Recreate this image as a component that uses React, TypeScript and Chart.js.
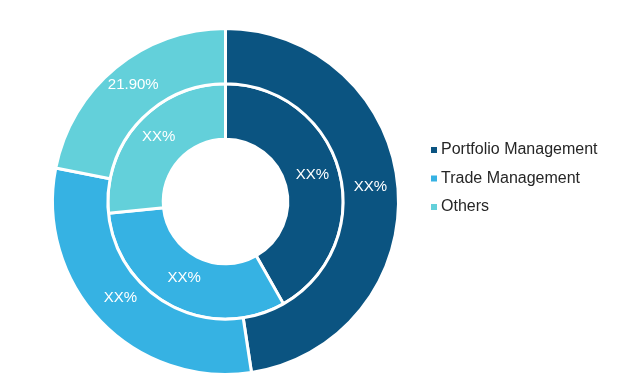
import React, { useEffect, useRef } from "react";
import { Chart, registerables } from "chart.js";

Chart.register(...registerables);

const categories = ["Portfolio Management", "Trade Management", "Others"];
const outerValues = [47.6, 30.5, 21.9];
const innerValues = [41.8, 31.6, 26.6];
const outerLabels = ["XX%", "XX%", "21.90%"];
const innerLabels = ["XX%", "XX%", "XX%"];
const colors = ["#0b5481", "#36b2e3", "#63d0da"];

const labelPlugin = {
  id: "arcLabels",
  afterDatasetsDraw(chart: any) {
    const ctx = chart.ctx;
    const texts = [outerLabels, innerLabels];
    ctx.save();
    ctx.font = "15px 'Liberation Sans', Arial, sans-serif";
    ctx.fillStyle = "#ffffff";
    ctx.textAlign = "center";
    ctx.textBaseline = "middle";
    chart.data.datasets.forEach((_: any, di: number) => {
      const meta = chart.getDatasetMeta(di);
      meta.data.forEach((arc: any, i: number) => {
        const p = arc.tooltipPosition();
        ctx.fillText(texts[di][i], p.x, p.y - 4);
      });
    });
    ctx.restore();
  },
};

const legendPlugin = {
  id: "sideLegend",
  afterDraw(chart: any) {
    const ctx = chart.ctx;
    ctx.save();
    ctx.font = "16px 'Liberation Sans', Arial, sans-serif";
    ctx.textBaseline = "middle";
    ctx.textAlign = "left";
    const x0 = 431;
    const y0 = 150;
    const step = 28.5;
    categories.forEach((c, i) => {
      const y = y0 + i * step;
      ctx.fillStyle = colors[i];
      ctx.fillRect(x0, y - 3, 6, 6);
      ctx.fillStyle = "#262626";
      ctx.fillText(c, x0 + 10, y);
    });
    ctx.restore();
  },
};

export default function App() {
  const ref = useRef<HTMLCanvasElement | null>(null);
  useEffect(() => {
    if (!ref.current) return;
    const chart = new Chart(ref.current, {
      type: "doughnut",
      data: {
        labels: categories,
        datasets: [
          {
            data: outerValues,
            backgroundColor: colors,
            borderColor: "#ffffff",
            borderWidth: 3,
          },
          {
            data: innerValues,
            backgroundColor: colors,
            borderColor: "#ffffff",
            borderWidth: 3,
          },
        ],
      },
      options: {
        responsive: true,
        maintainAspectRatio: false,
        animation: false,
        cutout: "36%",
        layout: { padding: { left: 50, top: 27, right: 224, bottom: 11 } },
        plugins: {
          legend: { display: false },
          tooltip: { enabled: false },
        },
      },
      plugins: [labelPlugin, legendPlugin],
    });
    return () => chart.destroy();
  }, []);
  return (
    <div style={{ position: "fixed", left: 0, top: 0, width: 625, height: 387, background: "#fff" }}>
      <canvas ref={ref} />
    </div>
  );
}
